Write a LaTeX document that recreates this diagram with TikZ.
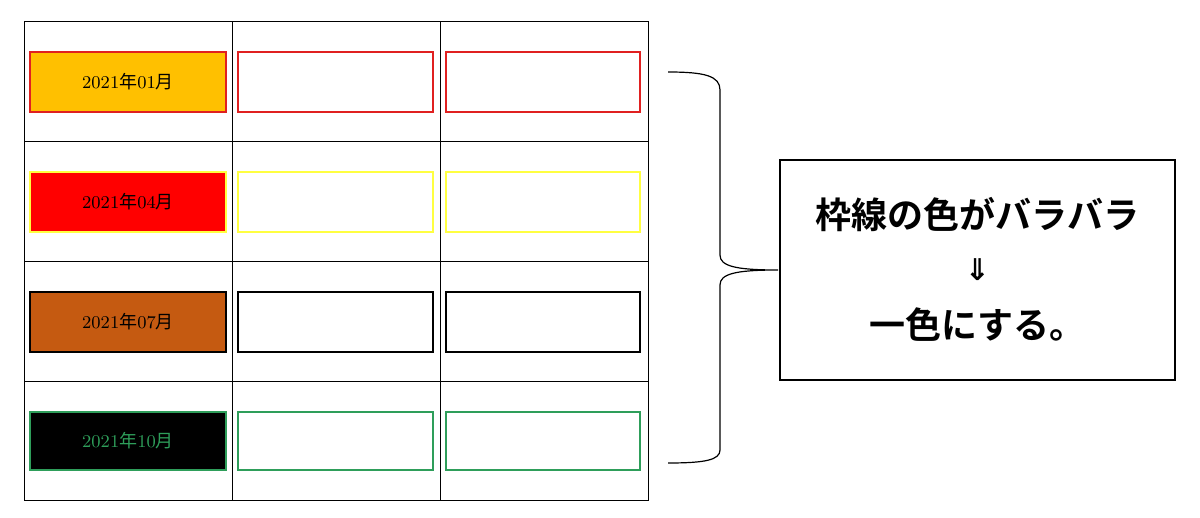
\documentclass[tikz,border=0pt]{standalone}
\usepackage{fontspec}
\newfontfamily\cjk{Noto Sans CJK JP}
\newfontfamily\cjkb{Noto Sans CJK JP Bold}
\newfontfamily\djv{DejaVu Sans}
\definecolor{org}{HTML}{FFC000}
\definecolor{rd}{HTML}{E02020}
\definecolor{yl}{HTML}{FFFF40}
\definecolor{br}{HTML}{C55A11}
\definecolor{gr}{HTML}{2E9E5A}
\begin{document}
\begin{tikzpicture}[x=0.5pt,y=-0.5pt,
  cell/.style={line width=1.3pt},
  lbl/.style={font=\fontsize{9}{10}\selectfont}]
\useasboundingbox (0,0) rectangle (1200,518);
\fill[white] (0,0) rectangle (1200,518);
\draw[line width=0.5pt] (24,22) rectangle (648,500);
\foreach \x in {232,440} \draw[line width=0.5pt] (\x,22) -- (\x,500);
\foreach \y in {142,262,382} \draw[line width=0.5pt] (24,\y) -- (648,\y);
% row1
\draw[cell,rd,fill=org] (30,52) rectangle (226,112);
\draw[cell,rd] (238,52) rectangle (433,112);
\draw[cell,rd] (446,52) rectangle (640,112);
\node[lbl] (a1) at (128,82) {2021{\cjk 年}01{\cjk 月}};
% row2
\draw[cell,yl,fill=red] (30,172) rectangle (226,232);
\draw[cell,yl] (238,172) rectangle (433,232);
\draw[cell,yl] (446,172) rectangle (640,232);
\node[lbl] (a2) at (128,202) {2021{\cjk 年}04{\cjk 月}};
% row3
\draw[cell,black,fill=br] (30,292) rectangle (226,352);
\draw[cell,black] (238,292) rectangle (433,352);
\draw[cell,black] (446,292) rectangle (640,352);
\node[lbl] (a3) at (128,322) {2021{\cjk 年}07{\cjk 月}};
% row4
\draw[cell,gr,fill=black] (30,412) rectangle (226,470);
\draw[cell,gr] (238,412) rectangle (433,470);
\draw[cell,gr] (446,412) rectangle (640,470);
\node[lbl,text=gr] (a4) at (128,441) {2021{\cjk 年}10{\cjk 月}};
% brace
\draw[line width=0.6pt] (668,72) .. controls (705,72) and (720,76) .. (720,90)
  -- (720,255) .. controls (720,266) and (735,270) .. (778,270)
  .. controls (735,270) and (720,274) .. (720,285)
  -- (720,450) .. controls (720,460) and (705,463) .. (668,463);
\node[draw,line width=0.6pt,minimum width=197.5pt,minimum height=110pt,inner sep=0pt] (box) at (977.5,270) {};
\node[font=\cjkb\fontsize{18}{20}\selectfont] (t1) at (977.5,215) {枠線の色がバラバラ};
\node[font=\djv\bfseries\fontsize{15}{18}\selectfont] (t2) at (977.5,270) {⇓};
\node[font=\cjkb\fontsize{18}{20}\selectfont] (t3) at (977.5,325) {一色にする。};
\end{tikzpicture}
\end{document}
